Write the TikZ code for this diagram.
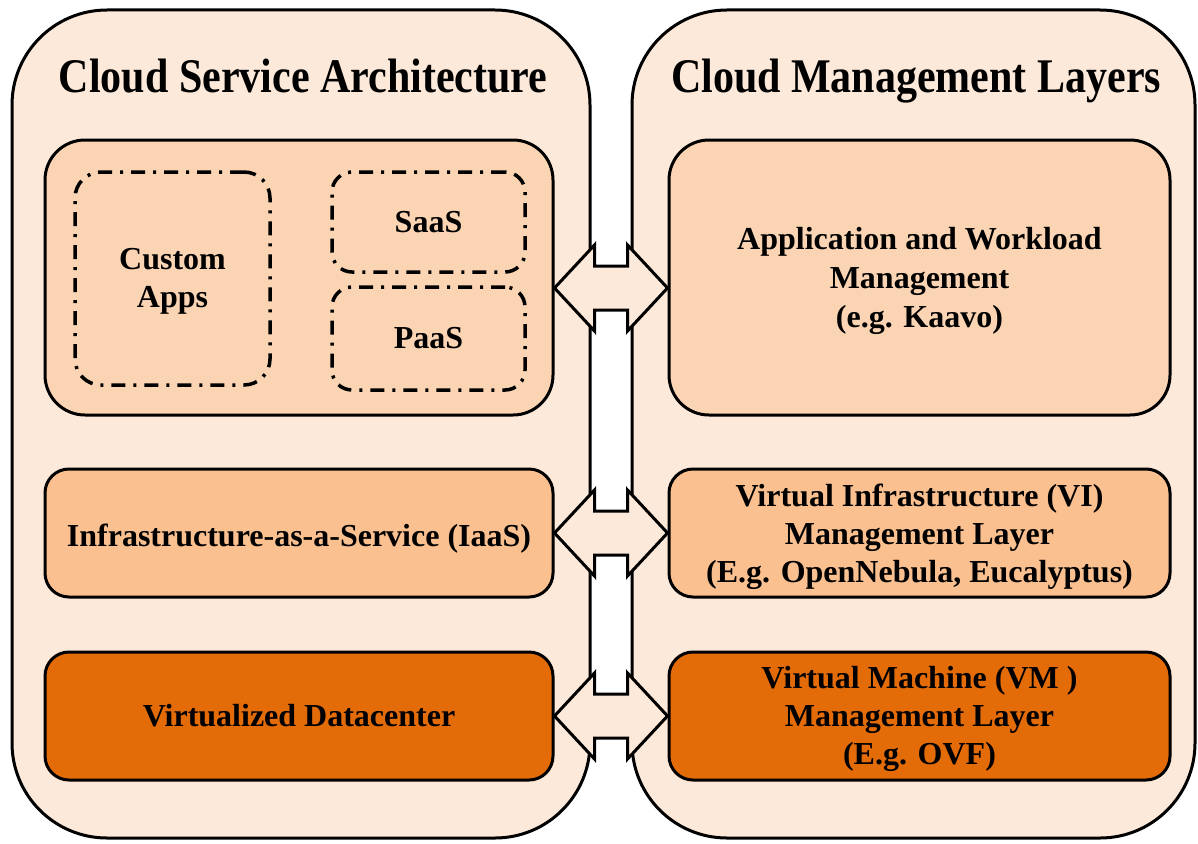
\documentclass[tikz,border=0pt]{standalone}
\usepackage{fontspec}
\setmainfont{Liberation Serif}
\usetikzlibrary{calc}
\definecolor{pOuter}{HTML}{FDE9D9}
\definecolor{pLight}{HTML}{FBD4B4}
\definecolor{pMid}{HTML}{FAC090}
\definecolor{pDark}{HTML}{E36C09}
\tikzset{
  outerbox/.style={draw=black, line width=3pt, fill=pOuter, rounded corners=95pt, inner sep=0pt},
  layerbox/.style={draw=black, line width=3pt, rounded corners=#1, inner sep=0pt},
  layerbox/.default=24pt,
  dashbox/.style={draw=black, line width=3.5pt, dash pattern=on 14pt off 8pt on 3pt off 8pt,
     rounded corners=#1, inner sep=0pt},
  dashbox/.default=24pt,
  boxtext/.style={inner sep=0pt, align=center, font=\fontsize{32pt}{38pt}\selectfont\bfseries},
  titletext/.style={font=\fontsize{42pt}{48pt}\selectfont\bfseries, inner sep=0pt, anchor=base},
  blockarrow/.style={draw=black, line width=3pt, fill=pOuter, line join=miter},
}
\newcommand\dblarrow[2]{%
  \draw[blockarrow] let \p1=(#1), \p2=(#2) in
    (\x1,\y1) -- (\x1+40pt,\y1+43pt) -- (\x1+40pt,\y1+22pt) -- (\x2-40pt,\y1+22pt)
    -- (\x2-40pt,\y1+43pt) -- (\x2,\y1) -- (\x2-40pt,\y1-43pt) -- (\x2-40pt,\y1-22pt)
    -- (\x1+40pt,\y1-22pt) -- (\x1+40pt,\y1-43pt) -- cycle;}
\begin{document}
\begin{tikzpicture}[x=1pt,y=-1pt]
\useasboundingbox[fill=white] (0,0) rectangle (1198,843);
% outer panels
\node[outerbox, minimum width=578pt, minimum height=828pt] (outerL) at (301,424) {};
\node[outerbox, minimum width=563pt, minimum height=828pt] (outerR) at (913.5,424) {};
% titles
\node[titletext] (titleL) at (303,92) {\scalebox{1}[1.15]{Cloud Service Architecture}};
\node[titletext] (titleR) at (916,92) {\scalebox{1}[1.15]{Cloud Management Layers}};
% left column
\node[layerbox=40pt, fill=pLight, minimum width=508pt, minimum height=275pt] (g1) at (299,277.5) {};
\node[dashbox=26pt, minimum width=195pt, minimum height=213pt] (custom) at (172.5,278.5) {};
\node[boxtext] (customT) at ([yshift=-3pt]custom.center) {Custom\\Apps};
\node[dashbox=20pt, minimum width=193pt, minimum height=100pt] (saas) at (428.5,222) {};
\node[boxtext] (saasT) at (saas.center) {SaaS};
\node[dashbox=20pt, minimum width=193pt, minimum height=103pt] (paas) at (428.5,338.5) {};
\node[boxtext] (paasT) at (paas.center) {PaaS};
\node[layerbox, fill=pMid, minimum width=508pt, minimum height=128pt] (iaas) at (299,533) {};
\node[boxtext] (iaasT) at ([yshift=-5.5pt]iaas.center) {Infrastructure-as-a-Service (IaaS)};
\node[layerbox, fill=pDark, minimum width=508pt, minimum height=128pt] (vd) at (299,716) {};
\node[boxtext] (vdT) at (vd.center) {Virtualized Datacenter};
% right column
\node[layerbox=40pt, fill=pLight, minimum width=501pt, minimum height=275pt] (app) at (919.5,277.5) {};
\node[boxtext, font=\fontsize{32pt}{39pt}\selectfont\bfseries] (appT) at ([yshift=-3pt]app.center) {Application and Workload\\Management\\(e.g. Kaavo)};
\node[layerbox, fill=pMid, minimum width=501pt, minimum height=128pt] (vi) at (919.5,533) {};
\node[boxtext] (viT) at ([yshift=-4pt]vi.center) {Virtual Infrastructure (VI)\\Management Layer\\(E.g. OpenNebula, Eucalyptus)};
\node[layerbox, fill=pDark, minimum width=501pt, minimum height=128pt] (vm) at (919.5,716) {};
\node[boxtext] (vmT) at ([yshift=-3pt]vm.center) {Virtual Machine (VM )\\Management Layer\\(E.g. OVF)};
% double arrows
\dblarrow{[yshift=-10.5pt]g1.east}{[yshift=-10.5pt]app.west}
\dblarrow{iaas.east}{vi.west}
\dblarrow{vd.east}{vm.west}
\end{tikzpicture}
\end{document}
